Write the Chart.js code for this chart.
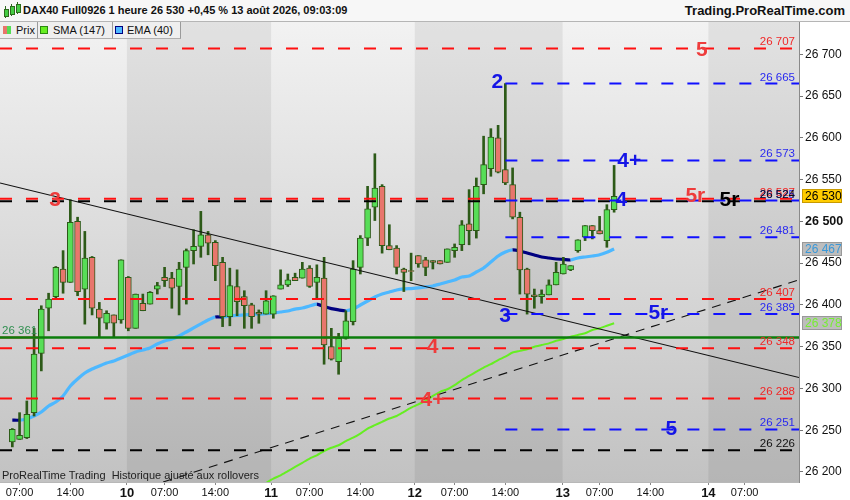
<!DOCTYPE html>
<html><head><meta charset="utf-8">
<script src="https://cdn.jsdelivr.net/npm/chart.js@4.4.1/dist/chart.umd.min.js"></script>
<style>
html,body{margin:0;padding:0;background:#fff;}
#wrap{position:relative;width:850px;height:500px;overflow:hidden;font-family:"Liberation Sans",Arial,sans-serif;}
#c{position:absolute;left:0;top:0;}
#hdr{position:absolute;left:0;top:0;width:850px;height:21px;background:#f7f7f7;border-bottom:1px solid #b5b5b5;}
#hdr .t{position:absolute;left:23px;top:4px;font-weight:bold;font-size:11px;color:#111;white-space:nowrap;}
#hdr .r{position:absolute;right:5px;top:3px;font-weight:bold;font-size:13px;color:#111;white-space:nowrap;}
#hdr i{position:absolute;width:3px;background:#44cc44;border:1px solid #2d6a1d;}
#hdr b{position:absolute;width:1px;background:#2d6a1d;}
#leg{position:absolute;left:0;top:22px;height:17px;font-size:11px;color:#111;}
#leg .c{position:absolute;top:0;height:16px;background:#efefef;border-right:1px solid #9a9a9a;border-bottom:1px solid #b0b0b0;}
#leg .c span{position:absolute;top:2px;white-space:nowrap;}
#leg .c em{position:absolute;top:4px;width:8px;height:8px;}
#foot{position:absolute;left:2px;top:469px;font-size:11px;color:#222;white-space:nowrap;}
</style>
</head><body>
<div id="wrap">
<canvas id="c" width="850" height="500" style="width:850px;height:500px"></canvas>
<div id="hdr">
 <b style="left:5px;top:6px;height:12px"></b><i style="left:4px;top:9px;height:6px"></i>
 <b style="left:11px;top:4px;height:12px"></b><i style="left:10px;top:6px;height:7px"></i>
 <b style="left:17px;top:2px;height:12px"></b><i style="left:16px;top:4px;height:7px"></i>
 <span class="t">DAX40 Full0926 1 heure 26 530 +0,45 % 13 août 2026, 09:03:09</span>
 <span class="r">Trading.ProRealTime.com</span>
</div>
<div id="leg">
 <div class="c" style="left:0;width:37px"><em style="left:3px;background:linear-gradient(90deg,#e8756b 50%,#55dd55 50%);"></em><span style="left:16px">Prix</span></div>
 <div class="c" style="left:38px;width:74px"><em style="left:2px;background:#66ee22;border:1px solid #2a8a10;width:6px;height:6px"></em><span style="left:15px">SMA (147)</span></div>
 <div class="c" style="left:113px;width:67px"><em style="left:2px;background:#4db8ff;border:1px solid #000080;width:6px;height:6px"></em><span style="left:14px">EMA (40)</span></div>
</div>
<div id="foot">ProRealTime Trading&nbsp; Historique ajusté aux rollovers</div>
</div>
<script>
// ---------- DATA ----------
const candleOpen = [26236,26239,26241,26271,26342,26396,26410,26443,26427,26500,
 26419,26457,26395,26378,26388,26382,26433,26372,26402,26401,
 26419,26433,26432,26422,26445,26465,26470,26484,26475,26451,
 26386,26422,26410,26400,26391,26389,26389,26419,26424,26433,
 26432,26444,26427,26432,26350,26332,26360,26380,26445,26480,
 26517,26542,26471,26468,26443,26441,26459,26454,26453,26453,
 26451,26465,26472,26497,26489,26544,26563,26600,26562,26544,
 26505,26443,26412,26410,26412,26424,26437,26442,26465,26481,
 26495,26489,26477,26514];
const candleHigh = [26252,26271,26285,26372,26399,26414,26446,26465,26526,26505,
 26488,26458,26403,26393,26388,26454,26434,26413,26413,26416,
 26427,26445,26439,26451,26467,26490,26512,26488,26477,26457,
 26444,26442,26417,26402,26394,26417,26411,26442,26437,26438,
 26451,26447,26448,26457,26372,26366,26393,26453,26483,26542,
 26581,26544,26496,26471,26444,26462,26459,26457,26453,26453,
 26467,26473,26501,26538,26552,26602,26611,26615,26665,26564,
 26511,26444,26419,26418,26430,26451,26457,26447,26478,26495,
 26495,26506,26520,26567];
const candleLow = [26230,26239,26240,26267,26321,26369,26407,26414,26427,26411,
 26377,26388,26362,26371,26362,26378,26369,26372,26393,26401,
 26413,26422,26396,26388,26401,26449,26457,26460,26429,26374,
 26375,26387,26372,26372,26378,26389,26384,26419,26422,26429,
 26432,26421,26407,26329,26334,26317,26359,26376,26437,26471,
 26501,26462,26466,26437,26416,26429,26445,26435,26443,26449,
 26451,26457,26465,26472,26480,26533,26554,26558,26544,26503,
 26413,26389,26396,26402,26412,26424,26437,26441,26463,26477,
 26479,26485,26469,26511];
const candleClose = [26251,26244,26269,26341,26395,26407,26445,26427,26499,26416,
 26456,26396,26384,26390,26378,26454,26372,26413,26393,26415,
 26423,26429,26420,26443,26465,26470,26484,26474,26447,26386,
 26423,26404,26399,26386,26389,26405,26411,26424,26430,26429,
 26443,26422,26433,26352,26335,26360,26381,26443,26480,26515,
 26540,26471,26466,26445,26439,26440,26449,26445,26451,26449,
 26467,26469,26496,26489,26542,26568,26601,26559,26546,26505,
 26442,26413,26410,26413,26424,26439,26449,26447,26478,26495,
 26489,26485,26514,26530];
const emaValues = [26262,26262,26263.5,26267,26271.8,26279,26283.8,26291,26303,26311.3,
 26318.5,26323.3,26326.9,26330.5,26332.9,26336.5,26340.1,26343.7,26346,26348.4,
 26353.2,26356.8,26359.2,26362.8,26367.6,26372.4,26377.2,26382,26385.5,26385.5,
 26386.7,26387.5,26388,26388.6,26389,26389.4,26390.3,26391.5,26392.7,26395,
 26396.3,26398.7,26401,26398,26395.5,26394,26393,26395,26399.9,26404.7,
 26409.5,26413.1,26415.5,26417.9,26419.1,26419.6,26420.3,26421.5,26422.7,26425,
 26427.4,26429.8,26433.4,26434.6,26439.4,26444.2,26451.4,26458.6,26463.4,26465.8,
 26464.6,26462.2,26459.8,26457.4,26456.2,26455,26454.5,26453.8,26456.2,26457.4,
 26458.6,26460,26463,26467];
const smaFirstIndex = 35;
const smaValues = [26187,26192,26196,26201,26206,26211,26216,26220,26225,
 26229,26232,26237,26241,26246,26252,26256,26260,26264,26267,
 26272,26277,26281,26285,26291,26296,26299,26304,26310,26315,
 26320,26325,26329,26334,26338,26343,26345,26347,26350,26352,
 26354,26357,26359,26362,26364,26366,26370,26372,26375,26378];
const xMin = -1.7, xMax = 108.5;
const xTickPos = [1,8,15.8,21,28,35.7,41,48,55.5,61,68,75.9,81,88,96,101];
const xTickLabels = ['07:00','14:00','10','07:00','14:00','11','07:00','14:00','12','07:00','14:00','13','07:00','14:00','14','07:00'];
const dayBounds = [15.8,35.7,55.5,75.9,96];
const yMin = 26188, yMax = 26738.7;
const yTickValues = [26200,26250,26300,26350,26400,26450,26500,26550,26600,26650,26700];
const levelValues = [26707,26665,26573,26527,26525,26524,26481,26407,26389,26361,26348,26288,26251,26226];
const levelKind   = ['red','blue','blue','red','blue','black','blue','red','blue','green','red','red','blue','black'];
const levelFrom   = [-1.7,68,68,-1.7,68,-1.7,68,-1.7,68,-1.7,-1.7,-1.7,68,-1.7];
const levelText   = ['26 707','26 665','26 573','26 527','26 525','26 524','26 481','26 407','26 389','','26 348','26 288','26 251','26 226'];
const greenLevelText = '26 361';
const redMarkFrom = [-1.7,42.9], redMarkTo = [3.8,45.0], redMarkValue = 26361;
const trendDownX = [-1.7,108.5], trendDownY = [26546,26313];
const trendUpX = [20.8,108.5], trendUpY = [26188,26430];
const waveText = ['3','2','4+','4','5r','5r','5','3','5r','4','4+','5'];
const waveKind = ['red','blue','blue','blue','red','black','red','blue','blue','red','red','blue'];
const waveX = [5.9,66.9,85.1,84.0,94.2,98.9,95.1,67.96,89.1,57.95,57.95,90.9];
const waveY = [26527,26668,26573,26526,26531,26526,26706,26388,26391,26350,26287,26253];
const badgeValues = [26530,26467,26378];
const badgeText = ['26 530','26 467','26 378'];

// ---------- STYLES ----------
const FONT = '"Liberation Sans", Arial, sans-serif';
const lineColor = {red:'#ff1010', blue:'#1010ff', black:'#000000', green:'#0b7d0b'};
const textColor = {red:'#f02828', blue:'#2a2af0', black:'#111111', green:'#2f8f4f'};
const waveColor = {red:'#ee3c3c', blue:'#1515e6', black:'#000000'};
const badgeBg = ['#ffcc00','#bdbdbd','#bdbdbd'];
const badgeFg = ['#000000','#3a98d8','#77ee33'];
const GREEN = '#57de57', RED = '#e8766c', EDGE = '#2d5a18';

const fmt = v => String(Math.round(v)).replace(/\B(?=(\d{3})+(?!\d))/g,' ');
const idx = candleOpen.map((_,i)=>i);

const datasets = [];
levelValues.forEach((v,k)=>{
  datasets.push({type:'line', order:0, data:[{x:levelFrom[k],y:v},{x:xMax,y:v}],
    borderColor:lineColor[levelKind[k]], borderWidth: levelKind[k]==='green'?2.5:2,
    borderDash: levelKind[k]==='green'?[]:[12,14], pointRadius:0, tension:0});
});
redMarkFrom.forEach((f,k)=>{
  datasets.push({type:'line', order:0, data:[{x:f,y:redMarkValue},{x:redMarkTo[k],y:redMarkValue}],
    borderColor:'#ff2a2a', borderWidth:2, pointRadius:0});
});
datasets.push({type:'line', order:0, data:trendDownX.map((xv,k)=>({x:xv,y:trendDownY[k]})),
  borderColor:'#111', borderWidth:1.1, pointRadius:0});
datasets.push({type:'line', order:0, data:trendUpX.map((xv,k)=>({x:xv,y:trendUpY[k]})),
  borderColor:'#111', borderWidth:1.1, borderDash:[9,7], pointRadius:0});
datasets.push({type:'bar', order:1, grouped:false, barThickness:6,
  data: idx.map(i=>({x:i, y:[candleOpen[i], candleClose[i]]})),
  backgroundColor: idx.map(i=>candleClose[i]>=candleOpen[i]?GREEN:RED),
  borderColor: EDGE, borderWidth:1, borderSkipped:false});
datasets.push({type:'bar', order:2, grouped:false, barThickness:2,
  data: idx.map(i=>({x:i, y:[candleLow[i], candleHigh[i]]})),
  backgroundColor: EDGE, borderWidth:0});
datasets.push({type:'line', order:3, data: emaValues.map((v,i)=>({x:i,y:v})),
  borderWidth:3.2, pointRadius:0, tension:0.2, borderColor:'#4db8ff',
  segment:{borderColor: c => c.p1.parsed.y <= c.p0.parsed.y ? '#000080' : '#4db8ff'}});
datasets.push({type:'line', order:3, data: smaValues.map((v,k)=>({x:smaFirstIndex+k,y:v})),
  borderWidth:2, pointRadius:0, tension:0.2, borderColor:'#66ee22'});

const bgPlugin = {
  id:'bg',
  beforeDraw(chart){
    const {ctx, chartArea:a, scales:{x}} = chart;
    ctx.save();
    const g = ctx.createLinearGradient(0,a.top,0,a.bottom);
    g.addColorStop(0,'#f2f2f2'); g.addColorStop(1,'#c2c2c2');
    ctx.fillStyle = g; ctx.fillRect(a.left,a.top,a.right-a.left,a.bottom-a.top);
    const edges = [x.min, ...dayBounds, x.max];
    ctx.fillStyle = 'rgba(0,0,0,0.065)';
    for (let k=1;k<edges.length-1;k+=2){
      const x0 = x.getPixelForValue(edges[k]), x1 = x.getPixelForValue(edges[k+1]);
      ctx.fillRect(x0,a.top,x1-x0,a.bottom-a.top);
    }
    ctx.restore();
  }
};
const labelPlugin = {
  id:'labels',
  afterDatasetsDraw(chart){
    const {ctx, scales:{x,y}} = chart;
    ctx.save();
    ctx.font = '11.5px ' + FONT;
    ctx.textAlign = 'right'; ctx.textBaseline = 'alphabetic';
    levelValues.forEach((v,k)=>{
      if (!levelText[k]) return;
      ctx.fillStyle = textColor[levelKind[k]];
      ctx.fillText(levelText[k], x.right-4, y.getPixelForValue(v)-3);
    });
    ctx.textAlign = 'left'; ctx.fillStyle = textColor.green;
    ctx.fillText(greenLevelText, x.left+2, y.getPixelForValue(26361)-3);
    ctx.font = 'bold 21px ' + FONT;
    ctx.textAlign = 'center'; ctx.textBaseline = 'middle';
    waveText.forEach((t,k)=>{
      ctx.fillStyle = waveColor[waveKind[k]];
      ctx.fillText(t, x.getPixelForValue(waveX[k]), y.getPixelForValue(waveY[k])+1);
    });
    ctx.restore();
  },
  afterDraw(chart){
    const {ctx, scales:{y}} = chart;
    ctx.save();
    ctx.font = '12px ' + FONT; ctx.textAlign='left'; ctx.textBaseline='middle';
    badgeValues.forEach((v,k)=>{
      const py = Math.round(y.getPixelForValue(v));
      ctx.fillStyle = badgeBg[k]; ctx.fillRect(y.left+3, py-7, 40, 14);
      ctx.strokeStyle = k===0 ? '#c89a00' : '#999'; ctx.lineWidth=1;
      ctx.strokeRect(y.left+3.5, py-6.5, 39, 13);
      ctx.fillStyle = badgeFg[k]; ctx.fillText(badgeText[k], y.left+6, py+0.5);
    });
    ctx.restore();
  }
};

new Chart(document.getElementById('c'), {
  type:'bar',
  data:{datasets},
  plugins:[bgPlugin,labelPlugin],
  options:{
    responsive:false, animation:false,
    layout:{padding:{top:22,left:0,right:0,bottom:0}},
    plugins:{legend:{display:false}, tooltip:{enabled:false}},
    scales:{
      x:{type:'linear', min:xMin, max:xMax, offset:false, position:'bottom',
        afterBuildTicks: s => { s.ticks = xTickPos.map(v=>({value:v})); },
        afterFit: s => { s.height = 18; },
        ticks:{autoSkip:false, maxRotation:0, padding:1, color:'#111',
          callback:(v,i)=>xTickLabels[i],
          font: c => (c.tick && dayBounds.includes(c.tick.value)) ? {family:FONT,size:13,weight:'bold'} : {family:FONT,size:11}},
        grid:{drawOnChartArea:false, offset:false, tickLength:3, color:'#888'},
        border:{color:'#b8b8b8'}},
      y:{type:'linear', position:'right', min:yMin, max:yMax, beginAtZero:false,
        afterBuildTicks: s => { s.ticks = yTickValues.map(v=>({value:v})); },
        afterFit: s => { s.width = 51; },
        ticks:{padding:2, color:'#111', callback: v => fmt(v),
          font: c => (c.tick && c.tick.value===26500) ? {family:FONT,size:12.5,weight:'bold'} : {family:FONT,size:12}},
        grid:{drawOnChartArea:false, tickLength:4, color:'#777'},
        border:{color:'#8a8a8a'}}
    }
  }
});
</script>
</body></html>
